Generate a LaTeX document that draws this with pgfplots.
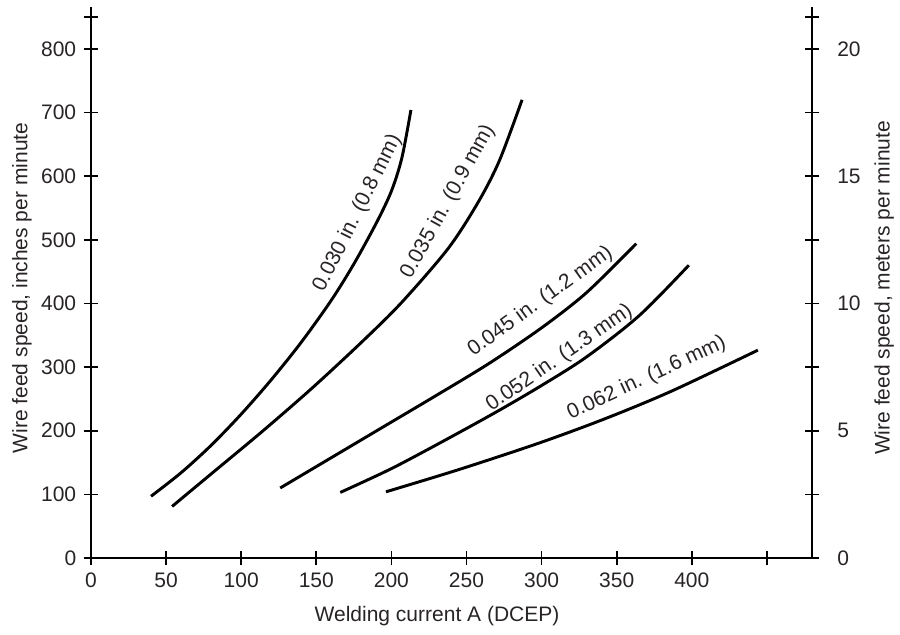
\documentclass[border=0pt]{standalone}
\usepackage{fontspec}
\setmainfont{Liberation Sans}
\usepackage{pgfplots}
\pgfplotsset{compat=1.18}
\definecolor{txt}{RGB}{40,36,37}
\begin{document}
\begin{tikzpicture}
\pgfplotsset{
  common/.style={
    scale only axis, width=343.2pt, height=262.3pt,
    xmin=0, xmax=480,
    tick align=center, major tick length=7pt,
    tick style={line width=0.8pt, black},
    axis line style={line width=0.9pt, black},
    tick label style={font=\fontsize{10}{12}\selectfont, text=txt},
    label style={font=\fontsize{10}{12}\selectfont, text=txt},
    /pgf/number format/assume math mode=true,
    clip=false,
  }
}
\begin{axis}[common,
  ymin=0, ymax=866,
  axis x line*=bottom, axis y line*=left,
  xtick={0,50,100,150,200,250,300,350,400,450},
  xticklabels={0,50,100,150,200,250,300,350,400,},
  ytick={0,100,200,300,400,500,600,700,800,850},
  yticklabels={0,100,200,300,400,500,600,700,800,},
  xlabel={Welding current A (DCEP)},
  xlabel style={at={(axis description cs:0.48,-0.074)}, anchor=north},
  ylabel={Wire feed speed, inches per minute},
  ylabel style={at={(axis description cs:-0.0957,0.49)}, anchor=center},
]
\addplot[smooth, line width=1.4pt, black] coordinates {
 (40,97) (60,134) (80,177) (100,226) (120,280) (140,339) (160,405) (175,462) (190,526.5) (200,576.5) (207,629) (213,704)};
\addplot[smooth, line width=1.4pt, black] coordinates {
 (54,81) (81.5,135) (114.6,200) (147.7,268) (181,341) (207,402) (238,487) (258,560) (272,625) (287,720)};
\addplot[smooth, line width=1.4pt, black] coordinates {
 (126,110) (160,157.6) (195,206.6) (230,255.6) (265,305.7) (300,361.7) (330,417.2) (363,494)};
\addplot[smooth, line width=1.4pt, black] coordinates {
 (166,103) (200,140.4) (235,184.2) (270,229.7) (300,271.1) (330,316.1) (365,380.9) (398,460)};
\addplot[smooth, line width=1.4pt, black] coordinates {
 (196.4,104) (245,139) (298.3,180.6) (342.3,218.9) (386.5,262.2) (444,326.6)};
\node[rotate=63.4, text=txt, font=\fontsize{10}{12}\selectfont] at (axis cs:177.4,542) {0.030 in. (0.8 mm)};
\node[rotate=61, text=txt, font=\fontsize{10}{12}\selectfont] at (axis cs:237.7,560) {0.035 in. (0.9 mm)};
\node[rotate=35.8, text=txt, font=\fontsize{10}{12}\selectfont] at (axis cs:299.2,403) {0.045 in. (1.2 mm)};
\node[rotate=34.6, text=txt, font=\fontsize{10}{12}\selectfont] at (axis cs:311.9,314) {0.052 in. (1.3 mm)};
\node[rotate=25, text=txt, font=\fontsize{10}{12}\selectfont] at (axis cs:369.9,282.5) {0.062 in. (1.6 mm)};
\end{axis}
\begin{axis}[common,
  ymin=0, ymax=21.65,
  axis x line=none, axis y line*=right,
  ytick={0,2.5,5,7.5,10,12.5,15,17.5,20,21.25},
  yticklabels={0,,5,,10,,15,,20,},
  yticklabel style={xshift=5pt},
  ylabel={Wire feed speed, meters per minute},
  ylabel style={at={(axis description cs:1.10,0.49)}, anchor=center, rotate=0},
]
\end{axis}
\pgfresetboundingbox
\path[use as bounding box] (-43.3pt,-36.2pt) rectangle (385.1pt,265.6pt);
\end{tikzpicture}
\end{document}
